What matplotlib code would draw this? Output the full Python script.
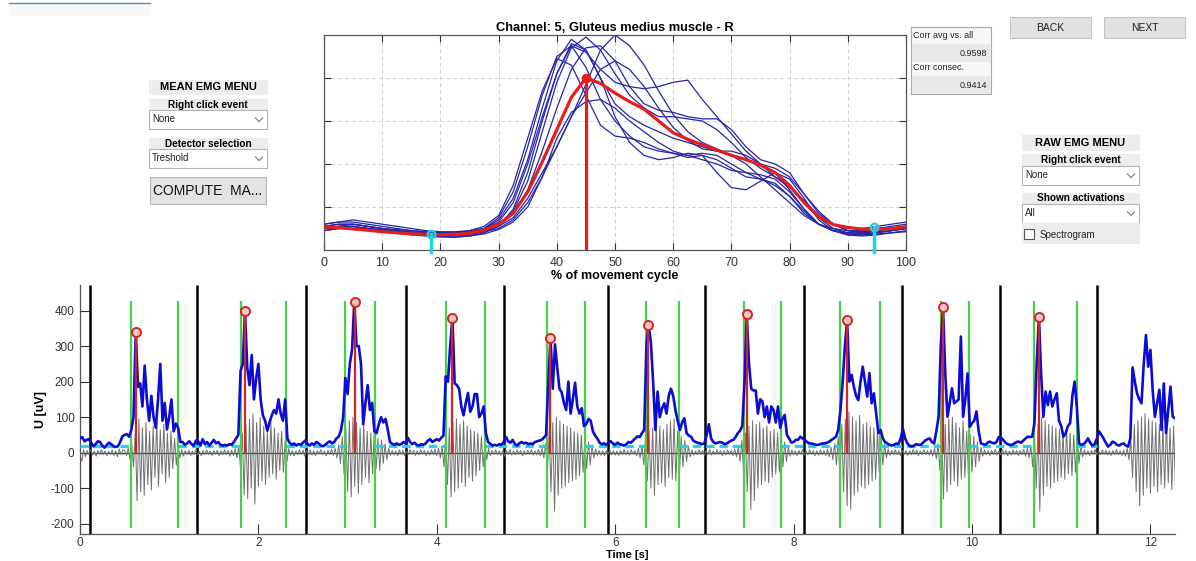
import numpy as np
import matplotlib
matplotlib.use('Agg')
import matplotlib.pyplot as plt
from matplotlib.patches import Rectangle
from matplotlib.lines import Line2D

plt.rcParams['font.family'] = ['Liberation Sans', 'DejaVu Sans']
plt.rcParams['axes.unicode_minus'] = False

W, H = 1196, 561

# ---------------- mean EMG (top) : % of movement cycle, step 2.5 % ----------------
PCT_STEP = 2.5
MEAN_CURVE = [0.108, 0.104, 0.098, 0.092, 0.085, 0.080, 0.075, 0.073, 0.071, 0.073, 0.078,
              0.092, 0.120, 0.170, 0.270, 0.410, 0.560, 0.710, 0.800, 0.775, 0.730, 0.690,
              0.655, 0.600, 0.545, 0.515, 0.490, 0.465, 0.440, 0.420, 0.395, 0.360, 0.300,
              0.220, 0.155, 0.118, 0.105, 0.097, 0.096, 0.100, 0.108]

CYCLE_CURVES = [
    [0.12, 0.13, 0.13, 0.12, 0.11, 0.10, 0.09, 0.085, 0.08, 0.08, 0.09, 0.11, 0.16, 0.30, 0.52, 0.74, 0.89, 0.86, 0.72, 0.58, 0.53,
     0.52, 0.50, 0.47, 0.45, 0.43, 0.44, 0.42, 0.38, 0.34, 0.33, 0.31, 0.25, 0.17, 0.12, 0.09, 0.08, 0.09, 0.10, 0.11, 0.12],
    [0.10, 0.11, 0.12, 0.11, 0.10, 0.09, 0.08, 0.075, 0.07, 0.07, 0.08, 0.10, 0.14, 0.24, 0.42, 0.66, 0.88, 0.98, 0.93, 0.80, 0.68,
     0.62, 0.58, 0.55, 0.52, 0.50, 0.48, 0.46, 0.44, 0.42, 0.40, 0.36, 0.28, 0.19, 0.12, 0.09, 0.075, 0.07, 0.08, 0.09, 0.10],
    [0.11, 0.12, 0.12, 0.11, 0.10, 0.09, 0.08, 0.07, 0.065, 0.065, 0.07, 0.085, 0.11, 0.18, 0.32, 0.55, 0.78, 0.94, 0.99, 0.93, 0.82,
     0.72, 0.66, 0.62, 0.62, 0.61, 0.60, 0.56, 0.50, 0.43, 0.38, 0.34, 0.30, 0.22, 0.15, 0.10, 0.08, 0.075, 0.08, 0.09, 0.10],
    [0.09, 0.10, 0.10, 0.10, 0.09, 0.085, 0.08, 0.075, 0.07, 0.07, 0.075, 0.085, 0.10, 0.14, 0.22, 0.34, 0.48, 0.62, 0.77, 0.93, 1.00,
     0.95, 0.86, 0.74, 0.63, 0.55, 0.50, 0.47, 0.44, 0.40, 0.34, 0.28, 0.22, 0.16, 0.12, 0.10, 0.09, 0.09, 0.095, 0.10, 0.105],
    [0.12, 0.13, 0.14, 0.13, 0.12, 0.11, 0.10, 0.09, 0.085, 0.085, 0.09, 0.10, 0.13, 0.22, 0.40, 0.62, 0.82, 0.95, 0.92, 0.84, 0.78,
     0.76, 0.75, 0.76, 0.78, 0.79, 0.70, 0.62, 0.54, 0.46, 0.40, 0.34, 0.29, 0.23, 0.16, 0.12, 0.10, 0.10, 0.11, 0.12, 0.13],
    [0.10, 0.10, 0.11, 0.10, 0.09, 0.08, 0.075, 0.07, 0.065, 0.06, 0.065, 0.075, 0.095, 0.13, 0.20, 0.34, 0.52, 0.64, 0.69, 0.70, 0.66,
     0.60, 0.55, 0.50, 0.46, 0.44, 0.45, 0.44, 0.40, 0.36, 0.33, 0.30, 0.25, 0.18, 0.12, 0.09, 0.07, 0.065, 0.07, 0.08, 0.09],
    [0.11, 0.11, 0.11, 0.10, 0.09, 0.085, 0.08, 0.075, 0.075, 0.075, 0.08, 0.09, 0.12, 0.17, 0.28, 0.46, 0.66, 0.84, 0.94, 0.95, 0.88,
     0.76, 0.68, 0.65, 0.64, 0.62, 0.61, 0.61, 0.56, 0.48, 0.42, 0.40, 0.36, 0.26, 0.17, 0.12, 0.09, 0.08, 0.085, 0.09, 0.10],
    [0.09, 0.10, 0.10, 0.10, 0.09, 0.08, 0.07, 0.065, 0.06, 0.06, 0.065, 0.08, 0.11, 0.19, 0.36, 0.60, 0.82, 0.96, 0.93, 0.80, 0.62,
     0.50, 0.44, 0.42, 0.43, 0.45, 0.44, 0.36, 0.29, 0.28, 0.32, 0.36, 0.33, 0.24, 0.14, 0.09, 0.07, 0.07, 0.075, 0.08, 0.085],
    [0.11, 0.12, 0.12, 0.11, 0.10, 0.095, 0.09, 0.085, 0.08, 0.08, 0.085, 0.10, 0.15, 0.27, 0.48, 0.72, 0.90, 0.95, 0.85, 0.70, 0.60,
     0.53, 0.48, 0.46, 0.45, 0.44, 0.42, 0.40, 0.37, 0.36, 0.35, 0.33, 0.27, 0.19, 0.12, 0.09, 0.08, 0.08, 0.09, 0.10, 0.11],
    [0.10, 0.11, 0.11, 0.10, 0.095, 0.09, 0.085, 0.08, 0.075, 0.075, 0.08, 0.09, 0.11, 0.15, 0.24, 0.36, 0.48, 0.62, 0.73, 0.84, 0.88,
     0.84, 0.76, 0.66, 0.57, 0.51, 0.47, 0.46, 0.46, 0.44, 0.40, 0.38, 0.34, 0.26, 0.18, 0.12, 0.09, 0.085, 0.09, 0.10, 0.11],
]

MEAN_PEAK_X, MEAN_PEAK_Y = 45.0, 0.80
EVENT_X = [18.4, 94.5]
EVENT_Y = [0.074, 0.105]

# ---------------- raw EMG (bottom) ----------------
ENV_DT = 0.025   # s, blue envelope
ENV = [
    40, 44, 32, 36, 38, 28, 18, 24, 32, 30, 20, 14, 22, 28, 24, 18, 16, 18, 30, 46,
    50, 52, 45, 64, 100, 341, 185, 195, 130, 245, 150, 90, 160, 100, 70, 150, 250, 90, 140, 65,
    100, 150, 60, 82, 70, 30, 30, 22, 26, 32, 24, 20, 34, 32, 20, 38, 24, 30, 20, 28,
    36, 26, 30, 22, 20, 22, 20, 24, 22, 30, 40, 50, 230, 250, 400, 240, 190, 275, 150, 210,
    250, 150, 105, 90, 62, 85, 105, 120, 110, 150, 110, 90, 150, 40, 28, 22, 26, 20, 24, 22,
    28, 34, 24, 20, 26, 22, 30, 26, 20, 18, 22, 28, 32, 26, 30, 40, 45, 62, 100, 210,
    165, 250, 290, 425, 300, 300, 250, 80, 140, 190, 120, 140, 60, 55, 80, 100, 85, 95, 65, 30,
    25, 22, 26, 22, 24, 30, 26, 42, 30, 24, 28, 22, 20, 24, 22, 26, 34, 38, 30, 34,
    38, 34, 42, 48, 215, 200, 300, 380, 195, 190, 180, 130, 105, 140, 168, 115, 130, 165, 165, 100,
    110, 130, 55, 30, 25, 20, 22, 20, 24, 22, 30, 44, 32, 28, 36, 24, 20, 26, 30, 26,
    28, 24, 26, 24, 30, 32, 34, 36, 42, 50, 200, 322, 180, 305, 240, 180, 170, 140, 120, 200,
    110, 150, 197, 130, 110, 125, 75, 80, 95, 90, 60, 48, 40, 28, 24, 26, 22, 28, 32, 26,
    22, 28, 24, 22, 20, 24, 30, 28, 34, 40, 46, 44, 55, 64, 300, 360, 310, 200, 64, 172,
    100, 125, 139, 110, 160, 180, 160, 120, 90, 64, 85, 97, 55, 48, 45, 34, 30, 28, 26, 24,
    26, 50, 80, 40, 30, 26, 28, 30, 28, 24, 26, 30, 34, 36, 44, 55, 62, 75, 200, 390,
    250, 180, 175, 175, 110, 150, 145, 100, 130, 85, 130, 120, 85, 130, 70, 95, 106, 50, 40, 28,
    30, 36, 36, 45, 40, 36, 30, 26, 26, 24, 22, 22, 24, 26, 26, 28, 31, 36, 40, 45,
    64, 120, 200, 300, 374, 200, 219, 186, 160, 148, 200, 242, 200, 158, 224, 139, 167, 110, 55, 64,
    40, 30, 26, 22, 20, 22, 26, 24, 40, 67, 40, 26, 20, 17, 20, 24, 22, 22, 28, 34,
    38, 40, 30, 26, 60, 101, 300, 410, 223, 101, 140, 181, 139, 144, 150, 327, 101, 150, 223, 73,
    83, 90, 116, 60, 26, 24, 22, 28, 31, 28, 26, 30, 44, 42, 36, 28, 24, 22, 22, 26,
    30, 31, 28, 34, 40, 45, 44, 45, 83, 250, 383, 220, 101, 172, 134, 172, 130, 150, 167, 90,
    75, 45, 55, 75, 83, 160, 200, 130, 26, 22, 24, 30, 40, 28, 20, 24, 40, 60, 50, 40,
    28, 17, 22, 31, 28, 22, 20, 24, 26, 20, 17, 40, 240, 200, 167, 150, 139, 250, 331, 242,
    289, 177, 101, 140, 177, 64, 195, 55, 120, 186, 101, 97,
]

RAW_DT = 0.02    # s, grey raw signal
RAW = [
    -4, -25, 8, -12, 6, -5, 9, -7, 4, -10, 6, -3, 8, -6, 5, -9, 4, -5, 7, -8, 5, -12, 10, -6, 8,
    6, -8, 12, -18, 25, -40, 60, -135, 95, -110, 70, -120, 85, -90, 60, -105, 75, -70, 90, -95, 65, -60, 80, -85, 55,
    -70, 60, -45, 40, -35, 20, -15, 8, -10, 6, -5, 7, -8, 5, -6, 9, -7, 4, -9, 6, -5, 8, -6, 5, -8,
    6, -4, 7, -9, 5, -6, 8, -5, 6, -10, 7, -8, 12, -15, 20, -45, 55, -120, 80, -130, 95, -100, 110, -145, 85,
    -95, 100, -80, 75, -90, 60, -70, 85, -60, 70, -75, 55, -50, 60, -55, 35, -25, 12, -8, 6, -9, 5, -6, 8, -5,
    7, -10, 6, -5, 8, -7, 5, -8, 6, -4, 9, -6, 5, -9, 7, -5, 10, -8, 12, -15, 22, -30, 45, -60, 70,
    -110, 90, -125, 100, -95, 85, -115, 70, -90, 80, -70, 60, -85, 55, -60, 65, -45, 40, -50, 35, -30, 25, -20, 12, -8,
    6, -7, 5, -9, 8, -5, 6, -8, 4, -6, 9, -5, 7, -8, 5, -6, 8, -4, 6, -9, 5, -7, 8, -6, 10,
    -8, 12, -15, 20, -40, 55, -90, 70, -125, 85, -110, 95, -100, 80, -85, 90, -95, 75, -70, 65, -80, 60, -65, 55, -50,
    45, -40, 30, -20, 12, -9, 6, -5, 8, -6, 5, -8, 7, -10, 6, -5, 9, -7, 5, -6, 8, -4, 6, -9, 5,
    -6, 7, -5, 8, -7, 5, -6, 9, -8, 12, -15, 25, -50, 60, -110, 85, -165, 100, -120, 90, -100, 80, -95, 75, -85,
    70, -80, 60, -75, 55, -65, 50, -55, 40, -45, 30, -35, 20, -15, 10, -8, 6, -7, 5, -9, 6, -5, 8, -6, 5,
    -7, 5, -8, 6, -5, 9, -6, 5, -7, 8, -5, 6, -9, 12, -15, 20, -35, 45, -80, 60, -100, 70, -120, 85, -90,
    75, -85, 65, -95, 80, -70, 90, -75, 95, -80, 60, -60, 45, -40, 35, -25, 18, -12, 8, -7, 5, -6, 8, -5, 6,
    -8, 6, -5, 9, -7, 5, -6, 8, -4, 6, -9, 5, -7, 8, -5, 6, -8, 10, -12, 15, -25, 35, -60, 55, -110,
    75, -160, 90, -135, 80, -100, 85, -90, 70, -80, 75, -85, 60, -70, 65, -60, 55, -55, 45, -40, 30, -25, 15, -10, 8,
    -6, 5, -8, 6, -5, 9, -7, 5, -6, 8, -5, 6, -9, 5, -7, 8, -5, 6, -8, 10, -12, 15, -20, 25, -35,
    45, -70, 80, -110, 95, -150, 115, -160, 100, -120, 90, -110, 105, -95, 80, -100, 85, -90, 75, -80, 70, -75, 60, -55, 45,
    -35, 25, -15, 10, -8, 6, -5, 8, -6, 5, -9, 7, -5, 6, -8, 5, -6, 9, -5, 7, -8, 5, -6, 8, -5,
    6, -7, 9, -10, 12, -18, 25, -50, 60, -130, 80, -110, 95, -90, 100, -80, 85, -95, 70, -75, 90, -70, 60, -65, 50,
    -55, 45, -40, 30, -25, 15, -10, 8, -6, 5, -8, 6, -5, 9, -7, 5, -6, 8, -5, 6, -9, 5, -7, 8, -5,
    6, -8, 5, -6, 9, -10, 12, -15, 20, -40, 55, -100, 80, -165, 100, -120, 90, -95, 80, -100, 75, -85, 70, -80, 65,
    -70, 60, -75, 70, -60, 55, -65, 50, -55, 35, -30, 20, -12, 8, -6, 5, -8, 6, -5, 9, -7, 5, -6, 8, -5,
    6, -7, 5, -8, 6, -5, 9, -6, 5, -8, 7, -10, 12, -20, 35, -70, 80, -110, 90, -150, 100, -120, 110, -100, 95,
    -115, 90, -95, 85, -110, 80, -90, 75, -100, 90, -85, 70, -105, 75, -95,
]

CYCLE_START = [0.11, 1.31, 2.53, 3.65, 4.75, 5.92, 7.01, 8.12, 9.22, 10.31, 11.40]
ACT_ON = [0.57, 1.80, 2.97, 4.10, 5.24, 6.34, 7.44, 8.52, 9.65, 10.69]
ACT_OFF = [1.10, 2.31, 3.31, 4.54, 5.66, 6.71, 7.86, 8.97, 9.97, 11.18]
PEAK_T = [0.63, 1.855, 3.08, 4.17, 5.27, 6.37, 7.475, 8.60, 9.675, 10.75]
PEAK_V = [341, 400, 425, 380, 322, 360, 390, 374, 410, 383]
BASE_LEVEL = 18
ACT_LINE_RANGE = (-212, 428)

fig = plt.figure(figsize=(W / 100, H / 100), dpi=100)
fig.patch.set_facecolor('white')

# ---------------- top axes ----------------
ax1 = fig.add_axes([324 / W, 1 - 250 / H, 582 / W, 215 / H])
pct = np.arange(len(MEAN_CURVE)) * PCT_STEP
for c in CYCLE_CURVES:
    ax1.plot(pct, c, color='#2525a8', lw=0.9, zorder=2)
ax1.plot(pct, MEAN_CURVE, color='#e41e1e', lw=2.3, zorder=3)
ax1.plot([MEAN_PEAK_X, MEAN_PEAK_X], [0, MEAN_PEAK_Y], color='#e41e1e', lw=2.3, zorder=4)
ax1.plot(MEAN_PEAK_X, MEAN_PEAK_Y, 'o', color='#e41e1e', ms=6, zorder=5)
for x, y in zip(EVENT_X, EVENT_Y):
    ax1.plot([x, x], [-0.01, y], color='#22d3e6', lw=2.5, zorder=4, clip_on=False)
    ax1.plot(x, y, 'o', mfc='none', mec='#22d3e6', ms=5.5, mew=1.6, zorder=5)
ax1.set_xlim(0, 100)
ax1.set_ylim(0, 1)
ax1.set_xticks(range(0, 101, 10))
ax1.set_yticks([0.2, 0.4, 0.6, 0.8])
ax1.set_yticklabels([])
ax1.grid(True, color='#d2d2d2', ls=(0, (4, 3)), lw=0.7)
ax1.tick_params(direction='in', top=True, right=True, length=5, width=0.8,
                labelsize=9, pad=5, colors='#333333')
for s in ax1.spines.values():
    s.set_color('#555555')
    s.set_linewidth(0.9)
ax1.set_title('Channel: 5, Gluteus medius muscle - R', fontsize=9.3, fontweight='bold', pad=3)
ax1.set_xlabel('% of movement cycle', fontsize=9, fontweight='bold', labelpad=0.5)

# ---------------- bottom axes ----------------
ax2 = fig.add_axes([80 / W, 1 - 534 / H, 1094.5 / W, 249 / H])
t_env = np.arange(len(ENV)) * ENV_DT
t_raw = np.arange(len(RAW)) * RAW_DT
ylo, yhi = -229, 472
ax2.axhline(0, color='#3a3a3a', lw=1.0, zorder=2)
ax2.vlines(CYCLE_START, ylo, yhi, colors='black', lw=1.8, zorder=2.5)
ax2.plot(t_raw, RAW, color='#707070', lw=0.7, zorder=3)
quiet_start = [0.0] + ACT_OFF
quiet_end = ACT_ON + [CYCLE_START[-1]]
ax2.hlines([BASE_LEVEL] * len(quiet_start), quiet_start, quiet_end, colors='#2bd0e8',
           lw=2.4, linestyles=(0, (2.5, 1.5)), zorder=4)
ax2.vlines(ACT_ON + ACT_OFF, *ACT_LINE_RANGE, colors='#45d145', lw=1.6, zorder=4.5)
ax2.plot(t_env, ENV, color='#0c0cd2', lw=1.9, zorder=5)
ax2.vlines(PEAK_T, 0, PEAK_V, colors='#d42424', lw=1.6, zorder=6)
ax2.plot(PEAK_T, PEAK_V, 'o', ls='none', ms=6.5, mfc='#f5c6c6', mec='#d42424', mew=1.4, zorder=7)
ax2.set_xlim(0, 12.27)
ax2.set_ylim(ylo, yhi)
ax2.set_xticks(range(0, 13, 2))
ax2.set_yticks(range(-200, 401, 100))
ax2.spines['top'].set_visible(False)
ax2.spines['right'].set_visible(False)
for s in ('left', 'bottom'):
    ax2.spines[s].set_color('#555555')
    ax2.spines[s].set_linewidth(0.9)
ax2.tick_params(direction='in', length=7, width=0.8, labelsize=8.5, pad=4, colors='#333333')
ax2.tick_params(axis='x', pad=2.5)
ax2.set_xlabel('Time [s]', fontsize=8, fontweight='bold')
ax2.xaxis.set_label_coords(0.5, -0.063)
ax2.set_ylabel('U [uV]', fontsize=9, fontweight='bold')
ax2.yaxis.set_label_coords(-0.03, 0.5)


# ---------------- GUI widgets (pixel coordinates, origin top-left) ----------------
def box(x0, y0, x1, y1, fc, ec=None, lw=0.8):
    fig.add_artist(Rectangle((x0 / W, 1 - y1 / H), (x1 - x0) / W, (y1 - y0) / H,
                             transform=fig.transFigure, facecolor=fc,
                             edgecolor=ec if ec else fc, linewidth=lw))


def label(x, y, s, **kw):
    fig.text(x / W, 1 - y / H, s, va='center', **kw)


def dropdown(x0, y0, x1, y1, s):
    box(x0, y0, x1, y1, 'white', '#b4b4b4')
    label(x0 + 3, (y0 + y1) / 2, s, fontsize=7, color='#222222')
    cx, cy = x1 - 8, (y0 + y1) / 2
    fig.add_artist(Line2D([(cx - 3.5) / W, cx / W, (cx + 3.5) / W],
                          [1 - (cy - 1.5) / H, 1 - (cy + 2) / H, 1 - (cy - 1.5) / H],
                          transform=fig.transFigure, color='#777777', lw=0.8))


def header(x0, y0, x1, y1, s, size):
    box(x0, y0, x1, y1, '#ededed')
    label((x0 + x1) / 2, (y0 + y1) / 2, s, ha='center', fontsize=size, fontweight='bold')


fig.add_artist(Line2D([9 / W, 150 / W], [1 - 3 / H, 1 - 3 / H], transform=fig.transFigure,
                      color='#5b8db8', lw=1.0))
box(9, 4, 150, 15, '#f8f8f8')

header(149, 80, 267, 94, 'MEAN EMG MENU', 8)
header(149, 99, 267, 110, 'Right click event', 7.2)
dropdown(149, 110, 267, 129, 'None')
header(149, 138, 267, 149, 'Detector selection', 7.2)
dropdown(149, 149, 267, 168, 'Treshold')
box(150, 177, 266, 204, '#e3e3e3', '#b8b8b8')
label(208, 191, 'COMPUTE  MA...', ha='center', fontsize=10, color='#111111')

box(911, 27, 991, 94, '#f7f7f7', '#a8a8a8')
label(913, 36, 'Corr avg vs. all', fontsize=6.5, color='#222222')
box(912, 44, 990, 61, '#e8e8e8')
label(987, 53, '0.9598', ha='right', fontsize=6.5, color='#222222')
label(913, 68, 'Corr consec.', fontsize=6.5, color='#222222')
box(912, 76, 990, 93, '#e8e8e8')
label(987, 85, '0.9414', ha='right', fontsize=6.5, color='#222222')

box(1010, 17, 1091, 38, '#e1e1e1', '#c4c4c4')
label(1050.5, 28, 'BACK', ha='center', fontsize=7.5, color='#222222')
box(1104, 17, 1185, 38, '#e1e1e1', '#c4c4c4')
label(1144.5, 28, 'NEXT', ha='center', fontsize=7.5, color='#222222')

header(1022, 135, 1139, 150, 'RAW EMG MENU', 8)
header(1022, 154, 1139, 166, 'Right click event', 7.2)
dropdown(1022, 166, 1139, 185, 'None')
header(1022, 193, 1139, 204, 'Shown activations', 7.2)
dropdown(1022, 204, 1139, 223, 'All')
box(1022, 223, 1139, 243, '#ededed')
box(1024, 229, 1034, 239, 'white', '#555555', 0.8)
label(1040, 234.5, 'Spectrogram', fontsize=7, color='#222222')

fig.savefig('out.png', dpi=100, facecolor='white')
